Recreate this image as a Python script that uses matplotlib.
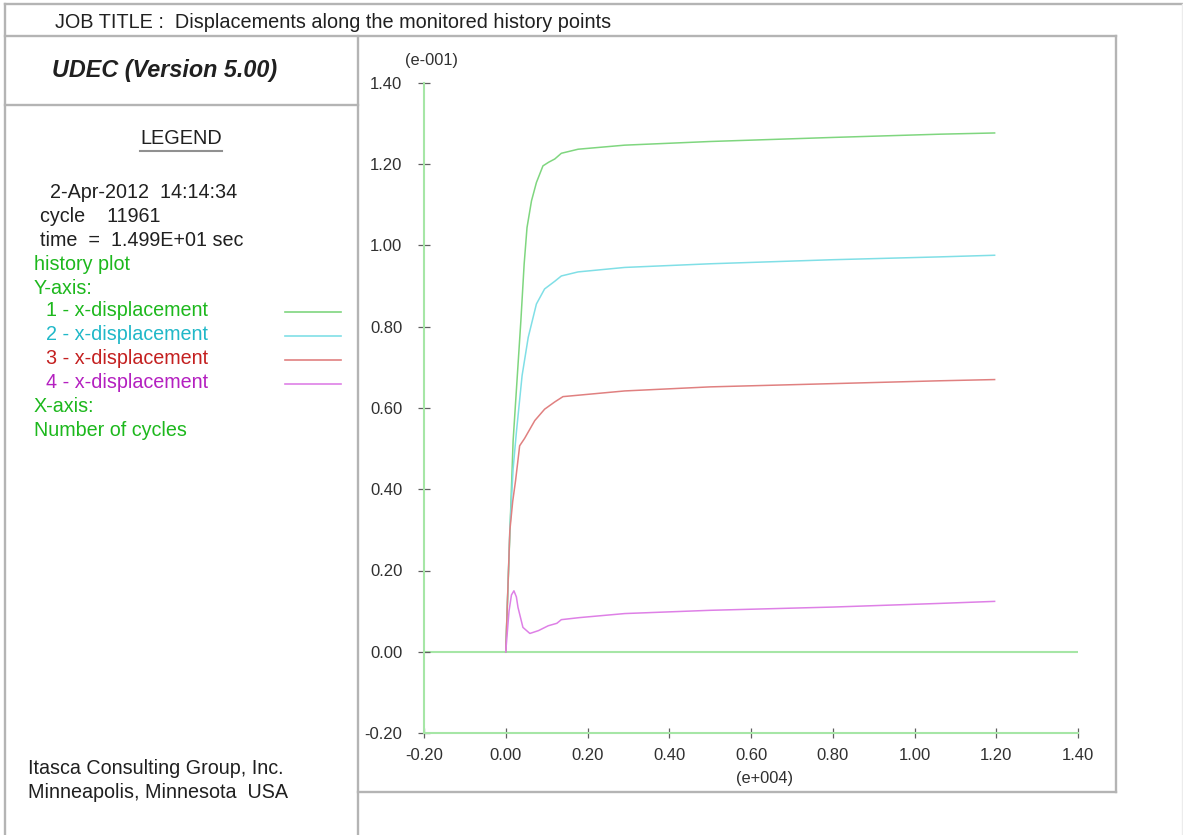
import numpy as np
import matplotlib
matplotlib.use('Agg')
import matplotlib.pyplot as plt
from matplotlib.ticker import FormatStrFormatter

plt.rcParams['font.family'] = ['Liberation Sans', 'DejaVu Sans']
plt.rcParams['axes.unicode_minus'] = False

# history data (x in e+004 cycles, y in e-001)
x1 = [0, 0.010, 0.018, 0.037, 0.045, 0.052, 0.063, 0.075, 0.091, 0.105, 0.120, 0.136, 0.177, 0.291, 0.50, 0.80, 1.062, 1.196]
y1 = [0, 0.29, 0.519, 0.815, 0.954, 1.044, 1.110, 1.155, 1.196, 1.205, 1.213, 1.227, 1.237, 1.247, 1.256, 1.266, 1.274, 1.277]

x2 = [0, 0.010, 0.018, 0.026, 0.040, 0.055, 0.075, 0.095, 0.120, 0.136, 0.177, 0.291, 0.50, 0.80, 1.062, 1.196]
y2 = [0, 0.30, 0.45, 0.54, 0.68, 0.774, 0.856, 0.893, 0.912, 0.925, 0.935, 0.946, 0.955, 0.965, 0.972, 0.976]

x3 = [0, 0.010, 0.017, 0.024, 0.034, 0.046, 0.071, 0.095, 0.120, 0.140, 0.291, 0.50, 0.80, 1.062, 1.196]
y3 = [0, 0.298, 0.37, 0.421, 0.507, 0.525, 0.569, 0.597, 0.615, 0.628, 0.642, 0.652, 0.660, 0.667, 0.670]

x4 = [0, 0.008, 0.014, 0.020, 0.026, 0.030, 0.042, 0.059, 0.080, 0.104, 0.125, 0.136, 0.180, 0.291, 0.50, 0.80, 1.062, 1.196]
y4 = [0, 0.10, 0.14, 0.150, 0.135, 0.109, 0.060, 0.045, 0.052, 0.064, 0.070, 0.079, 0.084, 0.094, 0.102, 0.110, 0.119, 0.124]

series = [(x1, y1), (x2, y2), (x3, y3), (x4, y4)]
line_cols = ['#7fd67f', '#80dfe6', '#e08080', '#de80e6']
text_cols = ['#1db81d', '#20b8c8', '#c42020', '#b420c0']
labels = ['1 - x-displacement', '2 - x-displacement', '3 - x-displacement', '4 - x-displacement']

xticks = np.arange(-0.2, 1.41, 0.2)
yticks = np.arange(-0.2, 1.41, 0.2)

W, H = 1183, 835
fig = plt.figure(figsize=(W / 100, H / 100), dpi=100)

# background panel in pixel coords
bg = fig.add_axes([0, 0, 1, 1])
bg.set_xlim(0, W)
bg.set_ylim(H, 0)
bg.axis('off')
frame = dict(color='#b4b4b4', lw=1.7)
bg.plot([5, W], [4, 4], **frame)
bg.plot([5, 5], [4, H], **frame)
bg.plot([5, 1116], [36, 36], **frame)
bg.plot([5, 358], [105, 105], **frame)
bg.plot([358, 358], [36, H], **frame)
bg.plot([1116, 1116], [36, 792], **frame)
bg.plot([358, 1116], [792, 792], **frame)
bg.plot([W - 1, W - 1], [4, H], color='#ececec', lw=1)

txt = 14.2
bg.text(55, 22, 'JOB TITLE :  Displacements along the monitored history points',
        fontsize=14.3, va='center', color='#202020')
bg.text(52, 71, 'UDEC (Version 5.00)', fontsize=16.8, weight='bold', style='italic',
        va='center', color='#202020')
bg.text(181, 138, 'LEGEND', fontsize=14.3, ha='center', va='center', color='#202020')
bg.plot([140, 222], [151, 151], color='#909090', lw=1.5)

black_lines = [(50, 193, '2-Apr-2012  14:14:34'),
               (40, 216, 'cycle    11961'),
               (40, 240, 'time  =  1.499E+01 sec')]
for tx, ty, s in black_lines:
    bg.text(tx, ty, s, fontsize=txt, va='center', color='#202020')

bg.text(34, 264, 'history plot', fontsize=txt, va='center', color=text_cols[0])
bg.text(34, 288, 'Y-axis:', fontsize=txt, va='center', color=text_cols[0])
for i, lab in enumerate(labels):
    yy = 311 + 24 * i
    bg.text(46, yy, lab, fontsize=txt, va='center', color=text_cols[i])
    bg.plot([285, 341], [yy + 1, yy + 1], color=line_cols[i], lw=1.2)
bg.text(34, 407, 'X-axis:', fontsize=txt, va='center', color=text_cols[0])
bg.text(34, 431, 'Number of cycles', fontsize=txt, va='center', color=text_cols[0])

bg.text(28, 769, 'Itasca Consulting Group, Inc.', fontsize=txt, va='center', color='#202020')
bg.text(28, 792, 'Minneapolis, Minnesota  USA', fontsize=txt, va='center', color='#202020')

bg.text(431, 61, '(e-001)', fontsize=11.8, ha='center', va='center', color='#303030')
bg.text(765, 778, '(e+004)', fontsize=11.8, ha='center', va='center', color='#303030')

# main history plot
ax = fig.add_axes([424 / W, 1 - 733 / H, (1078 - 424) / W, (733 - 83) / H])
ax.patch.set_alpha(0)
for (xs, ys), c in zip(series, line_cols):
    ax.plot(xs, ys, color=c, lw=1.1)
ax.axhline(0, color='#a6e6a6', lw=1.5, zorder=0)

ax.set_xlim(-0.2, 1.4)
ax.set_ylim(-0.2, 1.4)
ax.set_xticks(xticks)
ax.set_yticks(yticks)
ax.xaxis.set_major_formatter(FormatStrFormatter('%.2f'))
ax.yaxis.set_major_formatter(FormatStrFormatter('%.2f'))
ax.spines['top'].set_visible(False)
ax.spines['right'].set_visible(False)
for side in ['left', 'bottom']:
    ax.spines[side].set_color('#a6e6a6')
    ax.spines[side].set_linewidth(1.5)
ax.tick_params(axis='y', direction='inout', length=9, width=0.9, color='#606060',
               labelsize=12, labelcolor='#303030', pad=11)
ax.tick_params(axis='x', direction='inout', length=7, width=0.9, color='#606060',
               labelsize=12, labelcolor='#303030', pad=7)

plt.savefig('out.png', dpi=100)
